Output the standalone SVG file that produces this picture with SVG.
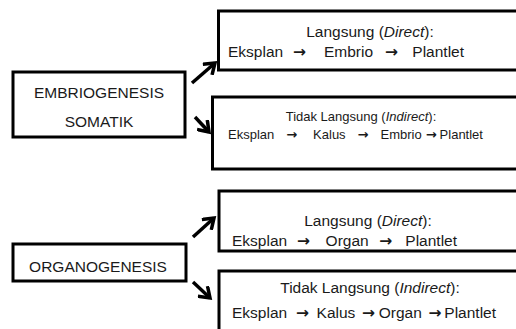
<svg xmlns="http://www.w3.org/2000/svg" width="516" height="329" viewBox="0 0 516 329">
<style>
.box{fill:#fff;stroke:#000;stroke-width:3}
.t{font-family:"Liberation Sans",Arial,sans-serif;fill:#1a1a1a}
.big{font-size:15.5px}
.mid{font-size:15.5px}
.sm{font-size:13px}
.c{text-anchor:middle}
.a{font-family:"DejaVu Sans",sans-serif;font-weight:bold}
.conn{stroke:#000;stroke-width:3.5;fill:none}
</style>
<defs>
<marker id="ah" markerUnits="userSpaceOnUse" markerWidth="16" markerHeight="16" viewBox="0 0 16 16" refX="13" refY="8" orient="auto">
<path d="M3,1 L13,8 L3,15" fill="none" stroke="#000" stroke-width="3.5"/>
</marker>
</defs>
<rect width="516" height="329" fill="#fff"/>
<g id="embriogenesis">
<rect class="box" x="13" y="72" width="172" height="65"/>
<text class="t big c" x="99" y="98">EMBRIOGENESIS</text>
<text class="t big c" x="99" y="127">SOMATIK</text>
</g>
<g id="organogenesis">
<rect class="box" x="13" y="244" width="173" height="37"/>
<text class="t big c" x="98" y="272">ORGANOGENESIS</text>
</g>
<g id="emb-direct">
<rect class="box" x="218.5" y="11" width="320" height="59"/>
<text class="t mid c" x="370" y="37">Langsung (<tspan font-style="italic">Direct</tspan>):</text>
<text class="t mid" y="57"><tspan x="228">Eksplan</tspan><tspan class="a" x="293">→</tspan><tspan x="324">Embrio</tspan><tspan class="a" x="385">→</tspan><tspan x="412.3">Plantlet</tspan></text>
</g>
<g id="emb-indirect">
<rect class="box" x="212.5" y="97" width="330" height="72"/>
<text class="t sm c" x="361" y="121">Tidak Langsung (<tspan font-style="italic">Indirect</tspan>):</text>
<text class="t sm" y="139"><tspan x="228">Eksplan</tspan><tspan class="a" x="286.2">→</tspan><tspan x="313.1">Kalus</tspan><tspan class="a" x="357.6">→</tspan><tspan x="380.5">Embrio</tspan><tspan class="a" x="425.7">→</tspan><tspan x="439.6">Plantlet</tspan></text>
</g>
<g id="org-direct">
<rect class="box" x="219" y="191" width="320" height="60"/>
<text class="t mid c" x="368" y="226">Langsung (<tspan font-style="italic">Direct</tspan>):</text>
<text class="t mid" y="246"><tspan x="232">Eksplan</tspan><tspan class="a" x="297">→</tspan><tspan x="325.6">Organ</tspan><tspan class="a" x="379.3">→</tspan><tspan x="405.3">Plantlet</tspan></text>
</g>
<g id="org-indirect">
<rect class="box" x="219" y="271" width="320" height="80"/>
<text class="t mid c" x="370" y="293">Tidak Langsung (<tspan font-style="italic">Indirect</tspan>):</text>
<text class="t mid" y="318"><tspan x="232">Eksplan</tspan><tspan class="a" x="296">→</tspan><tspan x="316.6">Kalus</tspan><tspan class="a" x="362.1">→</tspan><tspan x="378.7">Organ</tspan><tspan class="a" x="428.4">→</tspan><tspan x="444.3">Plantlet</tspan></text>
</g>
<g id="connectors">
<line class="conn" x1="192" y1="83" x2="215" y2="63" marker-end="url(#ah)"/>
<line class="conn" x1="195" y1="117" x2="209" y2="132" marker-end="url(#ah)"/>
<line class="conn" x1="193" y1="237" x2="214" y2="218" marker-end="url(#ah)"/>
<line class="conn" x1="193" y1="282" x2="210" y2="298" marker-end="url(#ah)"/>
</g>
</svg>
